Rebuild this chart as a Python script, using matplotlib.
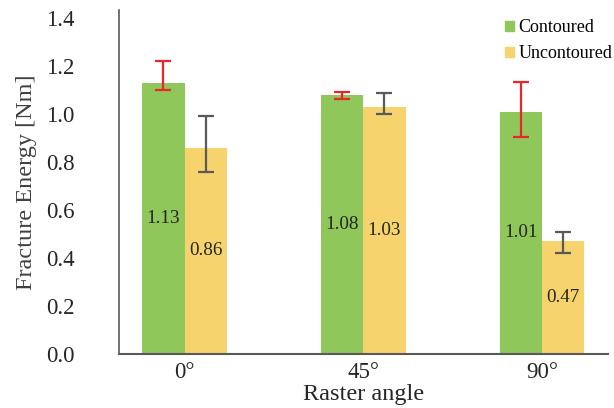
import matplotlib
matplotlib.use("Agg")
import matplotlib.pyplot as plt
from matplotlib.patches import Patch
import numpy as np

plt.rcParams['font.family'] = ['Liberation Serif', 'DejaVu Serif']

angles = ['0°', '45°', '90°']
contoured = [1.13, 1.08, 1.01]
uncontoured = [0.86, 1.03, 0.47]
# error bars (lower, upper)
contoured_err_lo = [0.03, 0.018, 0.105]
contoured_err_hi = [0.09, 0.013, 0.123]
uncontoured_err_lo = [0.10, 0.031, 0.05]
uncontoured_err_hi = [0.13, 0.056, 0.04]
yticks = [0.0, 0.2, 0.4, 0.6, 0.8, 1.0, 1.2, 1.4]

GREEN = '#8FC75A'
YELLOW = '#F6D36D'
RED = '#E8262B'
GREY = '#595959'

fig = plt.figure(figsize=(6.14, 4.08), dpi=100)
ax = fig.add_axes([0.194, 0.1324, 0.796, 0.8431])

x = np.arange(len(angles))
w = 0.237
ax.bar(x - w / 2, contoured, w, color=GREEN)
ax.bar(x + w / 2, uncontoured, w, color=YELLOW)
ax.errorbar(x - w / 2, contoured, yerr=[contoured_err_lo, contoured_err_hi],
            fmt='none', ecolor=RED, elinewidth=1.6, capsize=6, capthick=1.6)
ax.errorbar(x + w / 2, uncontoured, yerr=[uncontoured_err_lo, uncontoured_err_hi],
            fmt='none', ecolor=GREY, elinewidth=1.6, capsize=6, capthick=1.6)

# value labels in the middle of each bar
for xs, vals in ((x - w / 2, contoured), (x + w / 2, uncontoured)):
    for xi, v in zip(xs, vals):
        ax.text(xi, v / 2, f'{v:.2f}', ha='center', va='center',
                fontsize=13.8, color='#262626')

ax.set_xlim(-0.366, 2.369)
ax.set_ylim(0, 1.433)
ax.set_yticks(yticks)
ax.set_yticklabels([f'{t:.1f}' for t in yticks])
ax.set_xticks(x)
ax.set_xticklabels(angles)
ax.tick_params(axis='y', length=0, pad=32, labelsize=16.5, labelcolor='#262626')
ax.tick_params(axis='x', length=0, pad=6, labelsize=16.5, labelcolor='#262626')

for s in ('top', 'right'):
    ax.spines[s].set_visible(False)
ax.spines['left'].set_color(GREY)
ax.spines['bottom'].set_color(GREY)
ax.spines['left'].set_linewidth(1.2)
ax.spines['bottom'].set_linewidth(1.5)

ax.set_ylabel('Fracture Energy [Nm]', fontsize=17.5, color='#404040')
ax.yaxis.set_label_coords(-0.168, 0.5)
ax.set_xlabel('Raster angle', fontsize=17.5, color='#262626')
ax.xaxis.set_label_coords(0.5, -0.088)

handles = [Patch(color=GREEN, label='Contoured'),
           Patch(color=YELLOW, label='Uncontoured')]
fig.legend(handles=handles, loc='upper left', bbox_to_anchor=(0.822, 0.953),
           frameon=False, fontsize=13, handlelength=0.5, handleheight=0.5,
           handletextpad=0.25, borderpad=0, borderaxespad=0, labelspacing=0.5)

fig.savefig('out.png', dpi=100)
